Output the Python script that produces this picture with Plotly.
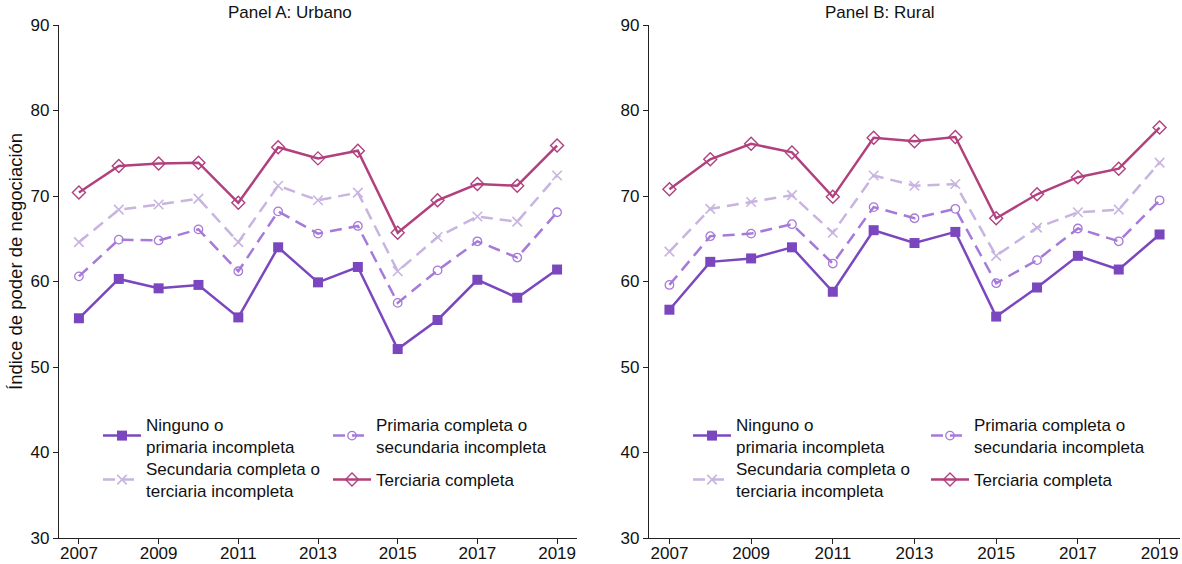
import plotly.graph_objects as go

# Survey years
years = list(range(2007, 2020))

# Bargaining-power index by education level, urban households
urbano_ninguno = [55.7, 60.3, 59.2, 59.6, 55.8, 64.0, 59.9, 61.7, 52.1, 55.5, 60.2, 58.1, 61.4]
urbano_primaria = [60.6, 64.9, 64.8, 66.1, 61.2, 68.2, 65.6, 66.5, 57.5, 61.3, 64.7, 62.8, 68.1]
urbano_secundaria = [64.6, 68.4, 69.0, 69.7, 64.6, 71.2, 69.5, 70.4, 61.2, 65.2, 67.6, 67.0, 72.4]
urbano_terciaria = [70.4, 73.5, 73.8, 73.9, 69.2, 75.7, 74.4, 75.3, 65.7, 69.5, 71.4, 71.2, 75.9]

# Bargaining-power index by education level, rural households
rural_ninguno = [56.7, 62.3, 62.7, 64.0, 58.8, 66.0, 64.5, 65.8, 55.9, 59.3, 63.0, 61.4, 65.5]
rural_primaria = [59.6, 65.3, 65.6, 66.7, 62.1, 68.7, 67.4, 68.5, 59.8, 62.5, 66.2, 64.7, 69.5]
rural_secundaria = [63.5, 68.5, 69.3, 70.1, 65.7, 72.4, 71.2, 71.4, 63.0, 66.3, 68.1, 68.4, 73.9]
rural_terciaria = [70.8, 74.3, 76.1, 75.1, 69.9, 76.8, 76.4, 76.9, 67.4, 70.2, 72.2, 73.2, 78.0]

series_names = [
    "Ninguno o<br>primaria incompleta",
    "Primaria completa o<br>secundaria incompleta",
    "Secundaria completa o<br>terciaria incompleta",
    "Terciaria completa",
]
panel_titles = ["Panel A: Urbano", "Panel B: Rural"]
y_title = "Índice de poder de negociación"
y_ticks = [30, 40, 50, 60, 70, 80, 90]
x_ticks = [2007, 2009, 2011, 2013, 2015, 2017, 2019]

W, H = 1182, 564
FONT = "Liberation Sans, Arial, sans-serif"
AXIS_COLOR = "#222222"
TEXT_COLOR = "#111111"

styles = [
    dict(color="#7B47BF", dash="solid", symbol="square", msize=10, mline=0),
    dict(color="#A57AD8", dash="12px,7px", symbol="circle-open", msize=8.5, mline=1.3),
    dict(color="#C8B4E0", dash="12px,7px", symbol="x-thin-open", msize=9.5, mline=1.6),
    dict(color="#B1407E", dash="solid", symbol="diamond-open", msize=10, mline=1.4),
]

panels = [
    dict(data=[urbano_ninguno, urbano_primaria, urbano_secundaria, urbano_terciaria],
         xaxis="x", yaxis="y", dom=(59, 577), title_x=290,
         leg_x=(98, 328)),
    dict(data=[rural_ninguno, rural_primaria, rural_secundaria, rural_terciaria],
         xaxis="x2", yaxis="y2", dom=(649, 1180), title_x=880,
         leg_x=(688, 926)),
]

# Legend grid: column and row of each series
leg_cells = [(0, 0), (1, 0), (0, 1), (1, 1)]
leg_rows_y = (436, 480)

fig = go.Figure()
layout_legends = {}
legend_idx = 1
for p in panels:
    for k, (vals, st) in enumerate(zip(p["data"], styles)):
        leg_name = "legend" if legend_idx == 1 else f"legend{legend_idx}"
        fig.add_trace(go.Scatter(
            x=years, y=vals, mode="lines+markers", name=series_names[k],
            xaxis=p["xaxis"], yaxis=p["yaxis"], legend=leg_name,
            line=dict(color=st["color"], width=2.5, dash=st["dash"]),
            marker=dict(symbol=st["symbol"], size=st["msize"], color=st["color"],
                        line=dict(color=st["color"], width=st["mline"])),
        ))
        col, row = leg_cells[k]
        layout_legends[leg_name] = dict(
            x=p["leg_x"][col] / W, y=1 - leg_rows_y[row] / H,
            xanchor="left", yanchor="middle",
            bgcolor="rgba(0,0,0,0)", borderwidth=0,
            font=dict(family=FONT, size=17, color=TEXT_COLOR),
            itemwidth=38, tracegroupgap=0,
        )
        legend_idx += 1

y_dom = ((H - 538) / H, (H - 25) / H)
axis_common = dict(
    showline=True, linecolor=AXIS_COLOR, linewidth=1.3,
    ticks="outside", ticklen=5, tickcolor=AXIS_COLOR, tickwidth=1.3,
    showgrid=False, zeroline=False, automargin=False,
    tickfont=dict(family=FONT, size=17, color=TEXT_COLOR),
)
x_extra = dict(ticklabelstandoff=-6)

fig.update_layout(
    width=W, height=H,
    margin=dict(l=0, r=0, t=0, b=0, autoexpand=False),
    paper_bgcolor="white", plot_bgcolor="white",
    showlegend=True,
    xaxis=dict(domain=[panels[0]["dom"][0] / W, panels[0]["dom"][1] / W],
               range=[2006.5, 2019.5], tickvals=x_ticks, anchor="y",
               **axis_common, **x_extra),
    yaxis=dict(domain=list(y_dom), range=[30, 90], tickvals=y_ticks, anchor="x",
               **axis_common),
    xaxis2=dict(domain=[panels[1]["dom"][0] / W, panels[1]["dom"][1] / W],
                range=[2006.5, 2019.5], tickvals=x_ticks, anchor="y2",
                **axis_common, **x_extra),
    yaxis2=dict(domain=list(y_dom), range=[30, 90], tickvals=y_ticks, anchor="x2",
                **axis_common),
    **layout_legends,
)

for p, t in zip(panels, panel_titles):
    fig.add_annotation(
        text=t, x=p["title_x"] / W, y=1 - 12 / H, xref="paper", yref="paper",
        xanchor="center", yanchor="middle", showarrow=False,
        font=dict(family=FONT, size=17, color=TEXT_COLOR),
    )

fig.add_annotation(
    text=y_title, x=15 / W, y=1 - 262 / H, xref="paper", yref="paper",
    xanchor="center", yanchor="middle", textangle=-90, showarrow=False,
    font=dict(family=FONT, size=18.5, color=TEXT_COLOR),
)

fig.write_html("out.html")
